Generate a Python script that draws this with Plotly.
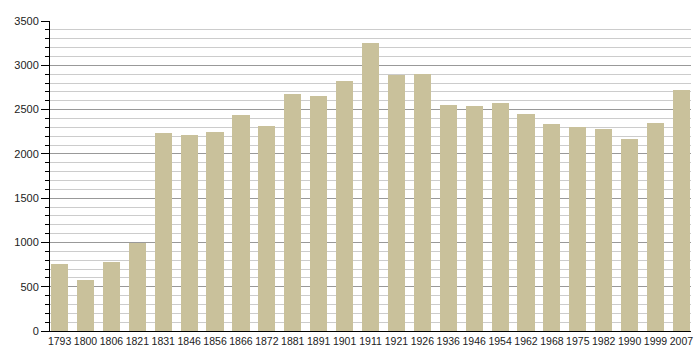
import plotly.graph_objects as go

years = ["1793", "1800", "1806", "1821", "1831", "1846", "1856", "1866", "1872", "1881",
         "1891", "1901", "1911", "1921", "1926", "1936", "1946", "1954", "1962", "1968",
         "1975", "1982", "1990", "1999", "2007"]
population = [755, 573, 777, 995, 2233, 2210, 2244, 2437, 2316, 2678,
              2655, 2825, 3255, 2893, 2900, 2550, 2542, 2576, 2451, 2338,
              2304, 2282, 2168, 2350, 2723]
y_ticks = [0, 500, 1000, 1500, 2000, 2500, 3000, 3500]

fig = go.Figure(go.Bar(
    x=years, y=population,
    marker=dict(color="rgb(201,193,155)", line=dict(width=0)),
    width=0.66,
))

fig.update_layout(
    width=700, height=360,
    margin=dict(l=50, r=9, t=21, b=29),
    paper_bgcolor="white", plot_bgcolor="white",
    font=dict(family="Liberation Sans, Arial, sans-serif", size=11, color="#222"),
    showlegend=False,
    bargap=0,
)
fig.update_xaxes(
    type="category", range=[-0.37, len(years) - 1 + 0.37],
    showline=True, linecolor="black", linewidth=1,
    ticks="", showgrid=False, tickfont=dict(size=10.5),
    tickangle=0, automargin=False,
)
fig.update_yaxes(
    range=[0, 3500], tickvals=y_ticks,
    showline=True, linecolor="black", linewidth=1,
    ticks="outside", ticklen=8, tickcolor="black", tickwidth=1,
    showgrid=True, gridcolor="#999999", gridwidth=1,
    zeroline=False, automargin=False,
    minor=dict(dtick=100, showgrid=True, gridcolor="#cccccc", gridwidth=1,
               ticks="outside", ticklen=4, tickcolor="black"),
    tickfont=dict(size=11),
)

fig.write_html("out.html")
